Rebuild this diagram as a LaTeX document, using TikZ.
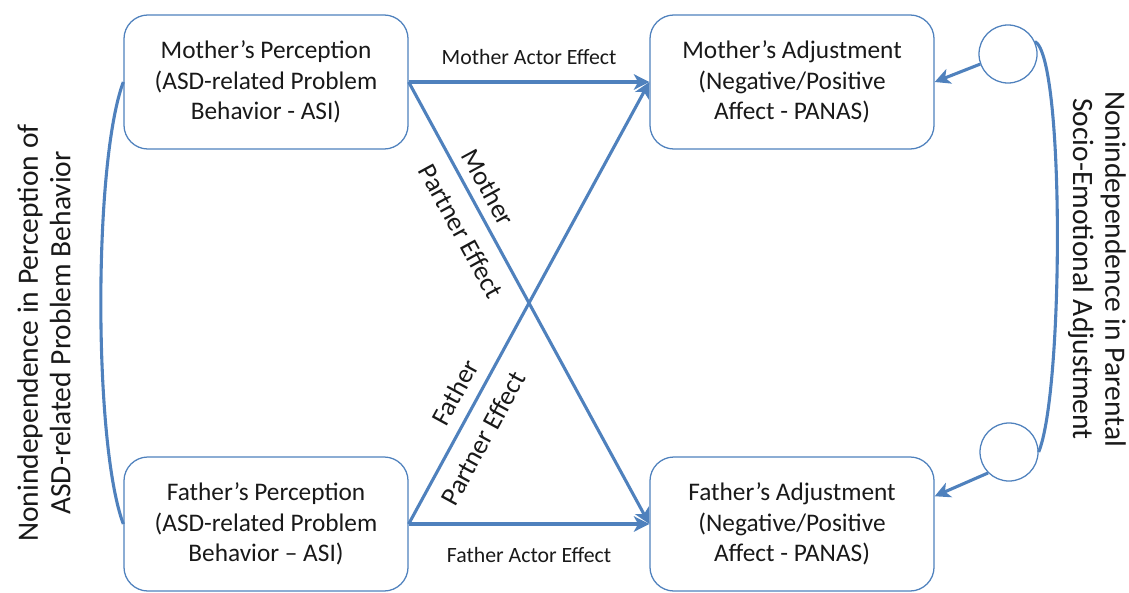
\documentclass[tikz,border=0pt]{standalone}
\usepackage{fontspec}
\setmainfont{Carlito}
\usetikzlibrary{arrows.meta,positioning}
\definecolor{pathblue}{RGB}{79,129,189}
\definecolor{inkgray}{RGB}{25,25,25}

\begin{document}
\begin{tikzpicture}[x=0.025cm,y=-0.025cm,
  measure/.style={draw=pathblue, line width=0.9pt, rounded corners=0.6cm, minimum width=7.1cm, minimum height=3.35cm, align=center, text=inkgray, font=\fontsize{18}{21.5}\selectfont},
  resid/.style={draw=pathblue, line width=0.9pt, circle, minimum size=1.45cm, inner sep=0pt},
  effect/.style={draw=pathblue, line width=2.2pt, -{Stealth[length=11pt,width=11pt,inset=3pt]}},
  covar/.style={draw=pathblue, line width=2.2pt},
  actorlbl/.style={text=inkgray, font=\fontsize{15.5}{18}\selectfont},
  partnerlbl/.style={text=inkgray, font=\fontsize{19}{22}\selectfont, sloped, inner sep=1pt},
  sidelbl/.style={text=inkgray, align=center, font=\fontsize{21}{23}\selectfont}]
\useasboundingbox (0,0) rectangle (1129,592);

\node[measure] (mperc) at (266,82) {Mother’s Perception\\(ASD-related Problem\\Behavior - ASI)};
\node[measure] (madj) at (792,82) {Mother’s Adjustment\\(Negative/Positive\\Affect - PANAS)};
\node[measure] (fperc) at (266,524) {Father’s Perception\\(ASD-related Problem\\Behavior – ASI)};
\node[measure] (fadj) at (792,524) {Father’s Adjustment\\(Negative/Positive\\Affect - PANAS)};
\node[resid] (mres) at (1008,54) {};
\node[resid] (fres) at (1009,452) {};
\node[sidelbl, rotate=90] (plbl) at (44,333) {Nonindependence in Perception of\\ASD-related Problem Behavior};
\node[sidelbl, rotate=-90] (albl) at (1097,269) {Nonindependence in Parental\\Socio-Emotional Adjustment};

\draw[effect] (mperc.east) -- node[actorlbl, above=0.28cm] {Mother Actor Effect} (madj.west);
\draw[effect] (fperc.east) -- node[actorlbl, below=0.42cm] {Father Actor Effect} (fadj.west);
\draw[effect] (mperc.east) -- node[partnerlbl, pos=0.26, above=0.19cm] {Mother}
  node[partnerlbl, pos=0.31, below=0.32cm] {Partner Effect} (fadj.west);
\draw[effect] (fperc.east) -- node[partnerlbl, pos=0.274, above=0.25cm] {Father}
  node[partnerlbl, pos=0.22, below=0.3cm] {Partner Effect} (madj.west);

\draw[effect] (mres.200) -- (madj.east);
\draw[effect] (fres.225) -- (fadj.11);

\draw[covar] (mperc.west) .. controls +(-30,80) and +(-30,-80) .. (fperc.west);
\draw[covar] (mres.25) .. controls +(30,15) and +(25,-60) .. (fres.east);
\end{tikzpicture}
\end{document}
